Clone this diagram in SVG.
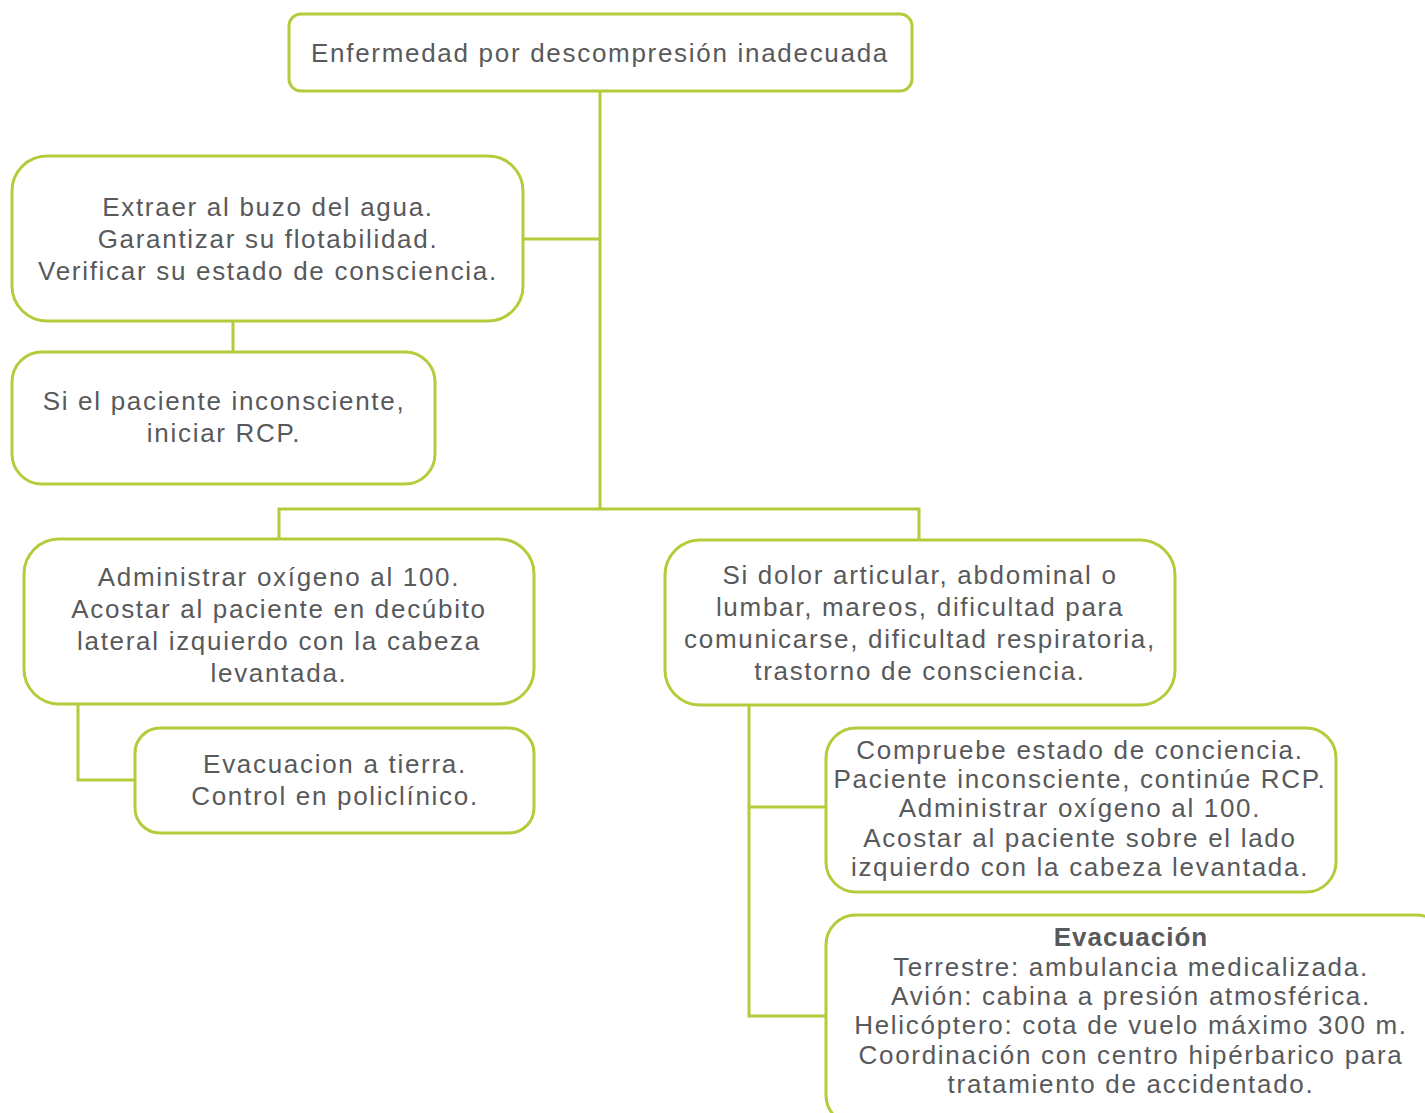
<svg xmlns="http://www.w3.org/2000/svg" width="1425" height="1113" viewBox="0 0 1425 1113">
<style>
.box{fill:#fff;stroke:#b7ca3c;stroke-width:3}
.con{fill:none;stroke:#b7ca3c;stroke-width:3}
text{font-family:"Liberation Sans",Arial,sans-serif;font-size:26px;letter-spacing:1.7px;fill:#58595b;text-anchor:middle;dominant-baseline:central}
.b{font-weight:bold;letter-spacing:1px}
</style>
<rect width="1425" height="1113" fill="#fff"/>
<g id="connectors">
<path class="con" d="M600,91 V509 M523,239 H600 M233,321 V352 M279,539 V509 H919 V540 M78,704 V780 H135 M749,705 V1016 H826 M749,807 H826"/>
</g>
<g id="n1"><rect class="box" x="289" y="14" width="623" height="77" rx="12"/><text x="600" y="53">Enfermedad por descompresión inadecuada</text></g>
<g id="n2"><rect class="box" x="12" y="156" width="511" height="165" rx="35"/>
<text x="268" y="207">Extraer al buzo del agua.</text><text x="268" y="239">Garantizar su flotabilidad.</text><text x="268" y="271">Verificar su estado de consciencia.</text></g>
<g id="n3"><rect class="box" x="12" y="352" width="423" height="132" rx="30"/>
<text x="224" y="401">Si el paciente inconsciente,</text><text x="224" y="433">iniciar RCP.</text></g>
<g id="n4"><rect class="box" x="24" y="539" width="510" height="165" rx="35"/>
<text x="279" y="577">Administrar oxígeno al 100.</text><text x="279" y="609">Acostar al paciente en decúbito</text><text x="279" y="641">lateral izquierdo con la cabeza</text><text x="279" y="673">levantada.</text></g>
<g id="n5"><rect class="box" x="135" y="728" width="399" height="105" rx="25"/>
<text x="335" y="764">Evacuacion a tierra.</text><text x="335" y="796">Control en policlínico.</text></g>
<g id="n6"><rect class="box" x="665" y="540" width="510" height="165" rx="35"/>
<text x="920" y="575">Si dolor articular, abdominal o</text><text x="920" y="607">lumbar, mareos, dificultad para</text><text x="920" y="639">comunicarse, dificultad respiratoria,</text><text x="920" y="671">trastorno de consciencia.</text></g>
<g id="n7"><rect class="box" x="826" y="728" width="510" height="164" rx="30"/>
<text x="1080" y="750">Compruebe estado de conciencia.</text><text x="1080" y="779">Paciente inconsciente, continúe RCP.</text><text x="1080" y="808">Administrar oxígeno al 100.</text><text x="1080" y="838">Acostar al paciente sobre el lado</text><text x="1080" y="867">izquierdo con la cabeza levantada.</text></g>
<g id="n8"><rect class="box" x="826" y="915" width="620" height="210" rx="30"/>
<text class="b" x="1131" y="937">Evacuación</text><text x="1131" y="967">Terrestre: ambulancia medicalizada.</text><text x="1131" y="996">Avión: cabina a presión atmosférica.</text><text x="1131" y="1025">Helicóptero: cota de vuelo máximo 300 m.</text><text x="1131" y="1055">Coordinación con centro hipérbarico para</text><text x="1131" y="1084">tratamiento de accidentado.</text></g>
</svg>
